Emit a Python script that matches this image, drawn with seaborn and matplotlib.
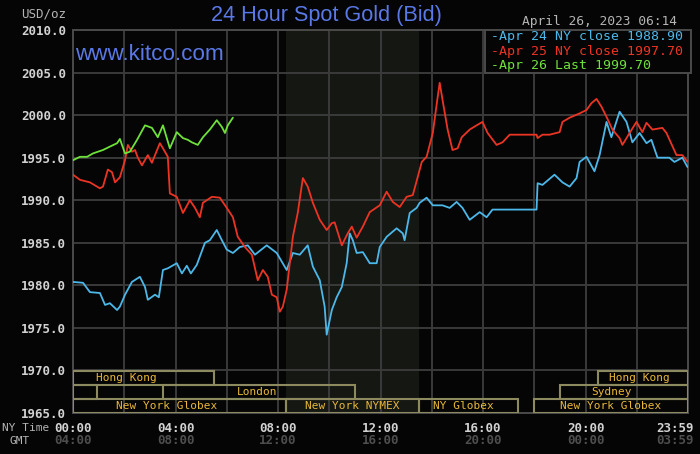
import matplotlib
matplotlib.use("Agg")
import numpy as np
import pandas as pd
import matplotlib.pyplot as plt
import seaborn as sns
from matplotlib.patches import Rectangle

# --- data (hours NY time, USD/oz) ---
apr24_hours = [0.00, 0.39, 0.66, 1.05, 1.25, 1.44, 1.72, 1.83, 2.03, 2.30, 2.61, 2.81, 2.92, 3.20,
               3.35, 3.51, 3.70, 4.05, 4.25, 4.44, 4.60, 4.83, 5.15, 5.34, 5.61, 5.81, 6.00, 6.24,
               6.51, 6.82, 7.10, 7.56, 7.95, 8.34, 8.58, 8.85, 9.16, 9.36, 9.63, 9.82, 9.90, 10.10,
               10.29, 10.49, 10.68, 10.80, 10.92, 11.07, 11.31, 11.58, 11.85, 11.97, 12.24, 12.63,
               12.87, 12.94, 13.14, 13.41, 13.53, 13.80, 14.04, 14.42, 14.70, 14.97, 15.20, 15.48,
               15.87, 16.14, 16.37, 16.76, 18.09, 18.13, 18.32, 18.79, 19.10, 19.38, 19.65, 19.77,
               20.04, 20.35, 20.55, 20.82, 21.01, 21.33, 21.60, 21.83, 22.11, 22.38, 22.57, 22.81,
               23.27, 23.47, 23.78, 23.98]
apr24_price = [1980.4, 1980.3, 1979.2, 1979.1, 1977.7, 1977.9, 1977.1, 1977.5, 1978.9, 1980.4, 1981.0,
               1979.8, 1978.3, 1978.9, 1978.6, 1981.8, 1982.0, 1982.6, 1981.4, 1982.3, 1981.4, 1982.4,
               1985.0, 1985.3, 1986.5, 1985.3, 1984.2, 1983.8, 1984.5, 1984.7, 1983.6, 1984.7, 1983.8,
               1981.8, 1983.8, 1983.6, 1984.7, 1982.2, 1980.6, 1977.5, 1974.2, 1977.1, 1978.6, 1979.8,
               1982.6, 1986.1, 1985.3, 1983.8, 1983.9, 1982.6, 1982.6, 1984.5, 1985.7, 1986.7, 1986.1,
               1985.3, 1988.5, 1989.1, 1989.7, 1990.3, 1989.4, 1989.4, 1989.1, 1989.8, 1989.1, 1987.7,
               1988.6, 1988.0, 1988.9, 1988.9, 1988.9, 1992.0, 1991.8, 1993.0, 1992.1, 1991.6, 1992.6,
               1994.5, 1995.1, 1993.4, 1995.3, 1999.2, 1997.4, 2000.4, 1999.2, 1996.8, 1997.9, 1996.7,
               1997.1, 1995.0, 1995.0, 1994.5, 1995.0, 1993.9]

apr25_hours = [0.00, 0.27, 0.66, 1.05, 1.17, 1.36, 1.52, 1.64, 1.83, 2.03, 2.14, 2.30, 2.42, 2.53,
               2.69, 2.92, 3.08, 3.20, 3.39, 3.51, 3.70, 3.78, 4.05, 4.29, 4.56, 4.76, 4.95, 5.07,
               5.42, 5.73, 6.00, 6.24, 6.43, 6.71, 6.98, 7.21, 7.41, 7.60, 7.76, 7.95, 8.07, 8.19,
               8.34, 8.58, 8.77, 8.97, 9.16, 9.36, 9.63, 9.90, 10.10, 10.21, 10.49, 10.72, 10.88,
               11.07, 11.31, 11.58, 11.97, 12.24, 12.48, 12.75, 13.02, 13.26, 13.45, 13.61, 13.80,
               14.04, 14.23, 14.31, 14.42, 14.62, 14.81, 15.01, 15.17, 15.48, 15.75, 15.98, 16.18,
               16.53, 16.76, 17.04, 17.31, 18.09, 18.13, 18.32, 18.60, 18.99, 19.10, 19.38, 19.77,
               20.04, 20.23, 20.43, 20.62, 20.82, 21.05, 21.33, 21.44, 21.72, 21.99, 22.22, 22.38,
               22.61, 23.00, 23.16, 23.55, 23.78, 23.98]
apr25_price = [1993.0, 1992.4, 1992.1, 1991.4, 1991.6, 1993.6, 1993.3, 1992.1, 1992.7, 1994.7, 1996.5,
               1995.7, 1995.9, 1995.0, 1994.1, 1995.3, 1994.4, 1995.3, 1996.7, 1996.1, 1995.1, 1990.8,
               1990.4, 1988.5, 1990.0, 1989.1, 1988.0, 1989.7, 1990.4, 1990.3, 1989.1, 1988.0, 1985.7,
               1984.5, 1983.6, 1980.6, 1981.8, 1981.0, 1978.9, 1978.6, 1976.9, 1977.5, 1979.5, 1985.7,
               1988.5, 1992.6, 1991.6, 1989.7, 1987.7, 1986.5, 1987.3, 1987.4, 1984.7, 1986.1, 1986.9,
               1985.6, 1986.9, 1988.6, 1989.4, 1991.0, 1989.8, 1989.2, 1990.4, 1990.6, 1992.7, 1994.5,
               1995.1, 1997.9, 2002.1, 2003.8, 2001.8, 1998.3, 1995.9, 1996.1, 1997.4, 1998.3, 1998.8,
               1999.2, 1997.9, 1996.5, 1996.8, 1997.7, 1997.7, 1997.7, 1997.3, 1997.7, 1997.7, 1998.0,
               1999.2, 1999.7, 2000.2, 2000.6, 2001.4, 2001.9, 2001.0, 1999.8, 1998.3, 1997.3, 1996.5,
               1997.9, 1999.2, 1998.0, 1999.1, 1998.3, 1998.5, 1997.9, 1995.3, 1995.3, 1994.5]

apr26_hours = [0.00, 0.27, 0.55, 0.78, 1.17, 1.44, 1.72, 1.83, 2.03, 2.22, 2.50, 2.81, 3.08, 3.31,
               3.51, 3.78, 4.05, 4.29, 4.48, 4.64, 4.87, 5.07, 5.34, 5.61, 5.81, 5.93, 6.04, 6.24]
apr26_price = [1994.7, 1995.1, 1995.1, 1995.5, 1995.9, 1996.3, 1996.7, 1997.2, 1995.5, 1995.7, 1997.1,
               1998.8, 1998.5, 1997.4, 1998.8, 1996.1, 1998.0, 1997.3, 1997.1, 1996.8, 1996.5, 1997.4,
               1998.3, 1999.4, 1998.6, 1997.9, 1998.8, 1999.7]

series_names = ["Apr 24 NY close 1988.90", "Apr 25 NY close 1997.70", "Apr 26 Last 1999.70"]
series_colors = ["#4cb8ea", "#ec3424", "#6ee23a"]

ny_labels = ["00:00", "04:00", "08:00", "12:00", "16:00", "20:00", "23:59"]
gmt_labels = ["04:00", "08:00", "12:00", "16:00", "20:00", "00:00", "03:59"]
label_hours = [0, 4, 8, 12, 16, 20, 23.5]

# market sessions: (start, end, row, label, label position)
sessions = [
    (0.0, 5.5, 0, "Hong Kong", 2.1),
    (20.5, 24.0, 0, "Hong Kong", 22.1),
    (0.0, 0.95, 1, "", 0),
    (3.5, 11.0, 1, "London", 7.2),
    (19.0, 24.0, 1, "Sydney", 21.0),
    (0.0, 8.33, 2, "New York Globex", 3.66),
    (8.33, 13.5, 2, "New York NYMEX", 10.9),
    (13.5, 17.35, 2, "NY Globex", 15.25),
    (18.0, 24.0, 2, "New York Globex", 21.0),
]

BG = "#050505"
GRID = "#3a3a3a"
MONO = "DejaVu Sans Mono"
SANS = "Liberation Sans"

df = pd.concat([
    pd.DataFrame({"hour": apr24_hours, "price": apr24_price, "series": series_names[0]}),
    pd.DataFrame({"hour": apr25_hours, "price": apr25_price, "series": series_names[1]}),
    pd.DataFrame({"hour": apr26_hours, "price": apr26_price, "series": series_names[2]}),
])

sns.set_style("dark")
plt.rcParams["font.family"] = [MONO, "DejaVu Sans"]

fig = plt.figure(figsize=(7, 4.54), dpi=100, facecolor=BG)
ax = fig.add_axes([73 / 700, 41 / 454, 615 / 700, 383 / 454])
ax.set_facecolor(BG)

# NYMEX pit session shading
ax.axvspan(8.33, 13.5, color="#151713", zorder=0, lw=0)

sns.lineplot(data=df, x="hour", y="price", hue="series", hue_order=series_names,
             palette=dict(zip(series_names, series_colors)), linewidth=1.3,
             estimator=None, sort=False, legend=False, ax=ax, zorder=3)

ax.set_xlim(0, 24)
ax.set_ylim(1965, 2010)
ax.set_xticks(np.arange(0, 25, 2))
ax.set_yticks(np.arange(1965, 2011, 5))
ax.set_xticklabels([])
ax.set_yticklabels([f"{v:.1f}" for v in np.arange(1965, 2011, 5)],
                   color="#d2d2d2", fontweight="bold", fontsize=9, family=MONO)
ax.tick_params(length=0, pad=5)
ax.grid(True, color=GRID, lw=1.4, zorder=1)
ax.set_axisbelow(True)
ax.set_xlabel("")
ax.set_ylabel("")
for sp in ax.spines.values():
    sp.set_color("#4a4a4a")
    sp.set_linewidth(1.4)

# session boxes
row_top = 1969.95
row_h = 1.65
for start, end, row, label, lx in sessions:
    y0 = row_top - (row + 1) * row_h
    ax.add_patch(Rectangle((start, y0), end - start, row_h, fill=False,
                           edgecolor="#8c8a5e", lw=1.5, zorder=4))
    if label:
        ax.text(lx, y0 + row_h / 2, label, ha="center", va="center", fontsize=8,
                color="#e8b838", family=MONO, zorder=5)

# x labels, NY time and GMT rows
xtr = ax.get_xaxis_transform()
for h, ny, gmt in zip(label_hours, ny_labels, gmt_labels):
    ax.text(h, -0.04, ny, transform=xtr, ha="center", va="center", fontsize=9,
            fontweight="bold", color="#d2d2d2", family=MONO)
    ax.text(h, -0.073, gmt, transform=xtr, ha="center", va="center", fontsize=9,
            fontweight="bold", color="#4e4e4e", family=MONO)
fig.text(2 / 700, 1 - 428 / 454, "NY Time", ha="left", va="center", fontsize=8,
         color="#b4b4b4", family=MONO)
fig.text(10 / 700, 1 - 441 / 454, "GMT", ha="left", va="center", fontsize=8,
         color="#b4b4b4", family=MONO)

# legend box
ax.add_patch(Rectangle((0.67, 0.888), 0.335, 0.112, transform=ax.transAxes, facecolor=BG,
                       edgecolor="#4a4a4a", lw=1.4, zorder=6, clip_on=False))
for i, (name, col) in enumerate(zip(series_names, series_colors)):
    ax.text(0.68, 0.982 - i * 0.037, "-" + name, transform=ax.transAxes, ha="left",
            va="center", fontsize=9.5, color=col, family=MONO, zorder=7)

# header texts
fig.text(326 / 700, 1 - 16 / 454, "24 Hour Spot Gold (Bid)", ha="center", va="center",
         fontsize=15.6, color="#5a78e6", family=SANS)
ax.text(0.003, 0.935, "www.kitco.com", transform=ax.transAxes, ha="left", va="center",
        fontsize=16.2, color="#5a78e6", family=SANS, zorder=5)
fig.text(44 / 700, 1 - 14 / 454, "USD/oz", ha="center", va="center", fontsize=9,
         color="#b4b4b4", family=MONO)
fig.text(677 / 700, 1 - 22 / 454, "April 26, 2023 06:14", ha="right", va="center",
         fontsize=9.3, color="#b4b4b4", family=MONO)

fig.savefig("out.png", dpi=100, facecolor=BG)
